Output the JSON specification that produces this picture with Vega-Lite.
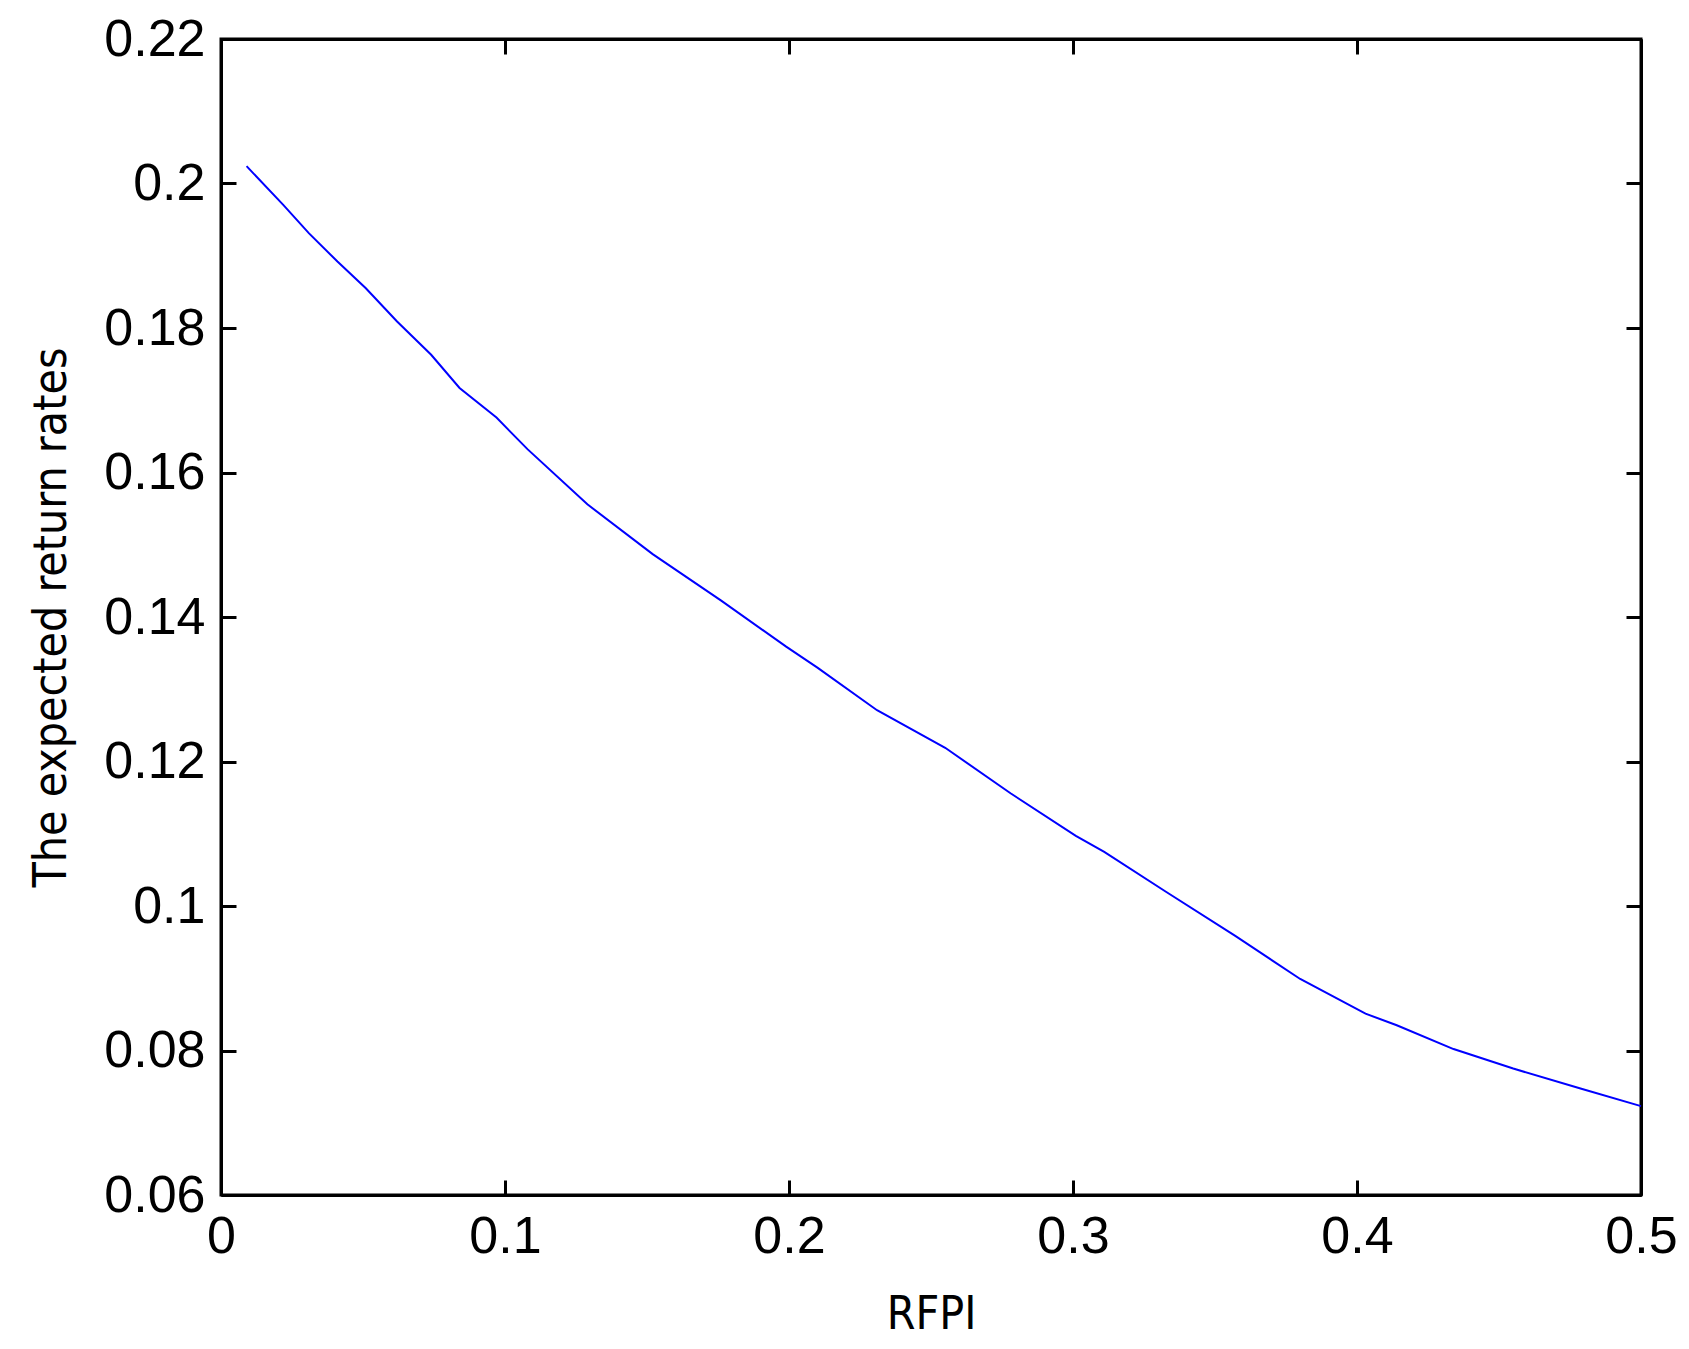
{
  "$schema": "https://vega.github.io/schema/vega-lite/v6.json",
  "width": 1420,
  "height": 1156,
  "autosize": {"type": "none"},
  "padding": {"left": 221, "top": 39, "right": 48, "bottom": 154},
  "background": "white",
  "config": {
    "view": {"stroke": "black", "strokeWidth": 3},
    "axis": {
      "domain": true,
      "domainColor": "black",
      "domainWidth": 3,
      "grid": false,
      "tickColor": "black",
      "tickWidth": 3,
      "tickSize": -15,
      "labelFont": "Liberation Sans",
      "labelFontSize": 52,
      "labelColor": "black",
      "labelPadding": 31,
      "labelOverlap": false,
      "labelBound": false,
      "labelFlush": false,
      "titleFont": "Liberation Sans Narrow, DejaVu Sans Condensed, Liberation Sans",
      "titleFontSize": 46,
      "titleFontWeight": "normal",
      "titleColor": "black"
    }
  },
  "data": {
    "values": [
      {"rfpi": 0.009, "rate": 0.2024},
      {"rfpi": 0.022, "rate": 0.1970},
      {"rfpi": 0.031, "rate": 0.1931},
      {"rfpi": 0.041, "rate": 0.1892},
      {"rfpi": 0.051, "rate": 0.1855},
      {"rfpi": 0.062, "rate": 0.1809},
      {"rfpi": 0.074, "rate": 0.1763},
      {"rfpi": 0.084, "rate": 0.1717},
      {"rfpi": 0.097, "rate": 0.1676},
      {"rfpi": 0.108, "rate": 0.1632},
      {"rfpi": 0.129, "rate": 0.1556},
      {"rfpi": 0.152, "rate": 0.1487},
      {"rfpi": 0.176, "rate": 0.1423},
      {"rfpi": 0.199, "rate": 0.1359},
      {"rfpi": 0.210, "rate": 0.1330},
      {"rfpi": 0.231, "rate": 0.1271},
      {"rfpi": 0.255, "rate": 0.1219},
      {"rfpi": 0.278, "rate": 0.1156},
      {"rfpi": 0.301, "rate": 0.1097},
      {"rfpi": 0.311, "rate": 0.1075},
      {"rfpi": 0.333, "rate": 0.1019},
      {"rfpi": 0.357, "rate": 0.0959},
      {"rfpi": 0.380, "rate": 0.0899},
      {"rfpi": 0.403, "rate": 0.0851},
      {"rfpi": 0.414, "rate": 0.0835},
      {"rfpi": 0.434, "rate": 0.0802},
      {"rfpi": 0.455, "rate": 0.0775},
      {"rfpi": 0.479, "rate": 0.0747},
      {"rfpi": 0.500, "rate": 0.0723}
    ]
  },
  "layer": [
    {
      "mark": {"type": "line", "color": "#0000ff", "strokeWidth": 2},
      "encoding": {
        "x": {
          "field": "rfpi", "type": "quantitative",
          "scale": {"domain": [0, 0.5], "nice": false, "zero": false},
          "axis": {"orient": "bottom", "title": "RFPI", "values": [0, 0.1, 0.2, 0.3, 0.4, 0.5], "format": "~g", "titleY": 133, "titleBaseline": "alphabetic"}
        },
        "y": {
          "field": "rate", "type": "quantitative",
          "scale": {"domain": [0.06, 0.22], "nice": false, "zero": false},
          "axis": {"orient": "left", "title": "The expected return rates", "values": [0.06, 0.08, 0.1, 0.12, 0.14, 0.16, 0.18, 0.2, 0.22], "format": "~g", "titleX": -156, "titleBaseline": "alphabetic"}
        }
      }
    },
    {
      "mark": {"type": "line", "opacity": 0},
      "encoding": {
        "x": {
          "field": "rfpi", "type": "quantitative",
          "axis": {"orient": "top", "title": null, "labels": false, "values": [0, 0.1, 0.2, 0.3, 0.4, 0.5]}
        },
        "y": {
          "field": "rate", "type": "quantitative",
          "axis": {"orient": "right", "title": null, "labels": false, "values": [0.06, 0.08, 0.1, 0.12, 0.14, 0.16, 0.18, 0.2, 0.22]}
        }
      }
    }
  ],
  "resolve": {"axis": {"x": "independent", "y": "independent"}}
}
